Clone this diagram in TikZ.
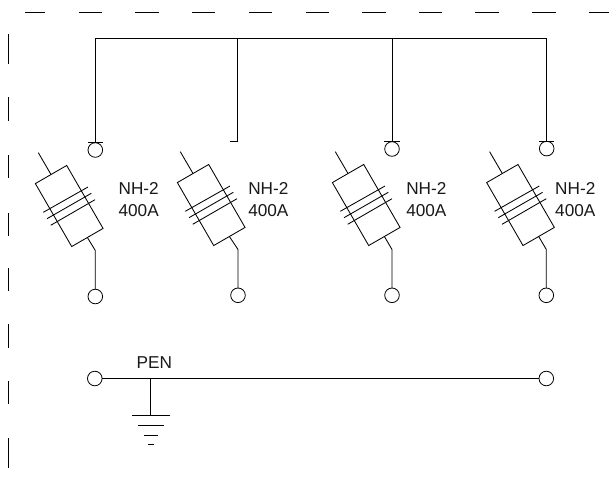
\documentclass[tikz,border=0pt]{standalone}
\usepackage{fontspec}
\setmainfont{Liberation Sans}
\tikzset{
  wire/.style={line width=0.85pt,black,line cap=butt},
  dashseg/.style={line width=0.9pt,black},
  term/.style={circle,draw,line width=0.8pt,minimum size=14.6pt,inner sep=0pt,outer sep=0pt},
  fusebody/.style={rectangle,draw,line width=0.85pt,minimum width=36.2pt,minimum height=72.7pt,inner sep=0pt,outer sep=0pt,rotate=30},
  lbl/.style={font=\fontsize{17.2}{21.8}\selectfont,inner sep=0pt,outer sep=0pt,align=left,anchor=west,text=black!90}
}
\newcommand{\fusesym}[4]{% name, dx, dy, lead x
  \begin{scope}[shift={(#2,#3)}]
    \node[fusebody] (#1) at (69.2,206) {};
    \coordinate (#1in) at (38.3,152.7);
    \coordinate (#1a1) at (43.3,212.3); \coordinate (#1a2) at (88,187);
    \coordinate (#1b1) at (47,218.7);   \coordinate (#1b2) at (91.3,193.3);
    \coordinate (#1c1) at (50.7,225.3); \coordinate (#1c2) at (95,199.7);
  \end{scope}
  \draw[wire] (#1in) -- (#1.north);
  \draw[wire] (#1a1) -- (#1a2);
  \draw[wire] (#1b1) -- (#1b2);
  \draw[wire] (#1c1) -- (#1c2);
}
\begin{document}
\begin{tikzpicture}[x=1pt,y=-1pt]
\useasboundingbox (0,0) rectangle (609,482);
\fill[white] (0,0) rectangle (609,482);
% dashed frame
\foreach \a/\b in {25/45,79/102,135/159,192/215,249/272,306/329,362/386,419/442,475/499,532/556,589/609}
  \draw[dashseg] (\a,12.5) -- (\b,12.5);
\foreach \a/\b in {34/64,97/121,155/178,213/236,268/291,324/348,381/404,438/468}
  \draw[dashseg] (8.5,\a) -- (8.5,\b);
% terminals
\node[term] (t1) at (95.3,150) {};
\node[term] (t3) at (392,149) {};
\node[term] (t4) at (546.7,148.6) {};
\node[term] (u1) at (95.3,296.5) {};
\node[term] (u2) at (238,295.3) {};
\node[term] (u3) at (392,295.3) {};
\node[term] (u4) at (546.3,295.3) {};
\node[term] (p1) at (94.8,378.5) {};
\node[term] (p2) at (546.3,378.5) {};
% bus
\coordinate (b1) at (95.3,38.5);
\coordinate (b2) at (237.7,38.5);
\coordinate (b3) at (392,38.5);
\coordinate (b4) at (546.7,38.5);
\coordinate (s2) at (237.7,141.6);
\coordinate (s2e) at (230,141.6);
\draw[wire] (t1.north) -- (b1) -- (b4) -- (t4.north);
\draw[wire] (b2) -- (s2) -- (s2e);
\draw[wire] (b3) -- (t3.north);
% T-bars
\draw[wire] ([xshift=-7.6pt]t1.north) -- ([xshift=7.6pt]t1.north);
\draw[wire] ([xshift=-7.6pt]t3.north) -- ([xshift=7.6pt]t3.north);
\draw[wire] ([xshift=-7.6pt]t4.north) -- ([xshift=7.6pt]t4.north);
% fuses
\fusesym{f1}{0}{0}{95.3}
\fusesym{f2}{142}{-1}{238}
\fusesym{f3}{297}{-1}{392}
\fusesym{f4}{451.3}{-1}{546.3}
% lower leads
\draw[wire] (f1.south) -- (u1.north |- 0,250.5) -- (u1.north);
\draw[wire] (f2.south) -- (u2.north |- 0,249.5) -- (u2.north);
\draw[wire] (f3.south) -- (u3.north |- 0,249.5) -- (u3.north);
\draw[wire] (f4.south) -- (u4.north |- 0,249.5) -- (u4.north);
% labels
\node[lbl] (l1) at (118.6,199.4) {NH-2\\400A};
\node[lbl] (l2) at (248.3,199.4) {NH-2\\400A};
\node[lbl] (l3) at (406.3,199.4) {NH-2\\400A};
\node[lbl] (l4) at (555.2,199.4) {NH-2\\400A};
\node[lbl] (pen) at (136.6,363) {PEN};
% PEN bar and earth
\draw[wire] (p1.east) -- (p2.west);
\coordinate (g0) at (150.5,378.5);
\coordinate (g1) at (150.5,415);
\draw[wire] (g0) -- (g1);
\draw[wire] (132,415) -- (170,415);
\draw[wire] (138,425.3) -- (163.5,425.3);
\draw[wire] (144,435.5) -- (157.5,435.5);
\draw[wire] (148,444.5) -- (153.5,444.5);
\end{tikzpicture}
\end{document}
